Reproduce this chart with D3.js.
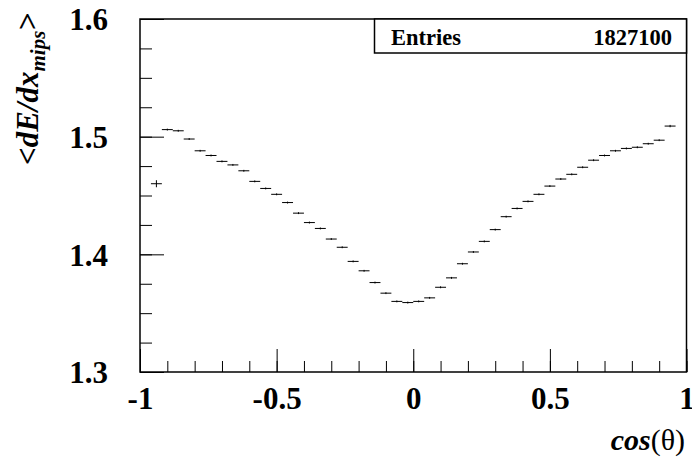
<!DOCTYPE html>
<html>
<head>
<meta charset="utf-8">
<script src="https://cdn.jsdelivr.net/npm/d3@7"></script>
<style>
  body { margin: 0; background: #fff; }
  svg { display: block; }
</style>
</head>
<body>
<div id="vis"></div>
<script>
// bin centres of cos(theta), 50 bins of width 0.04 (the two outer bins are empty)
var bin_centers = [-0.94, -0.90, -0.86, -0.82, -0.78, -0.74, -0.70, -0.66, -0.62, -0.58,
  -0.54, -0.50, -0.46, -0.42, -0.38, -0.34, -0.30, -0.26, -0.22, -0.18,
  -0.14, -0.10, -0.06, -0.02, 0.02, 0.06, 0.10, 0.14, 0.18, 0.22,
  0.26, 0.30, 0.34, 0.38, 0.42, 0.46, 0.50, 0.54, 0.58, 0.62,
  0.66, 0.70, 0.74, 0.78, 0.82, 0.86, 0.90, 0.94];
var mean_dedx = [1.460, 1.506, 1.505, 1.498, 1.488, 1.484, 1.479, 1.476, 1.471, 1.462,
  1.456, 1.451, 1.444, 1.435, 1.427, 1.422, 1.413, 1.406, 1.394, 1.386,
  1.376, 1.367, 1.360, 1.359, 1.360, 1.363, 1.372, 1.380, 1.392, 1.402,
  1.411, 1.421, 1.432, 1.439, 1.445, 1.451, 1.458, 1.464, 1.468, 1.474,
  1.480, 1.484, 1.488, 1.490, 1.491, 1.494, 1.497, 1.509];
var dedx_err = [0.0030, 0.0008, 0.0008, 0.0008, 0.0008, 0.0008, 0.0008, 0.0008, 0.0008, 0.0008,
  0.0008, 0.0008, 0.0008, 0.0008, 0.0008, 0.0008, 0.0008, 0.0008, 0.0008, 0.0008,
  0.0008, 0.0008, 0.0008, 0.0008, 0.0008, 0.0008, 0.0008, 0.0008, 0.0008, 0.0008,
  0.0008, 0.0008, 0.0008, 0.0008, 0.0008, 0.0008, 0.0008, 0.0008, 0.0008, 0.0008,
  0.0008, 0.0008, 0.0008, 0.0008, 0.0008, 0.0008, 0.0008, 0.0010];
var bin_half_width = 0.02;

var x_ticks = [-1, -0.5, 0, 0.5, 1];
var x_tick_labels = ["-1", "-0.5", "0", "0.5", "1"];
var y_ticks = [1.3, 1.4, 1.5, 1.6];
var y_tick_labels = ["1.3", "1.4", "1.5", "1.6"];
var entries = "1827100";

var serif = '"Liberation Serif", "Times New Roman", Times, serif';

var width = 692, height = 461;
var margin = { top: 19, bottom: 89, left: 140, right: 5.5 };

var svg = d3.select('#vis')
    .append('svg')
    .attr('width', width)
    .attr('height', height)
    .style('font-family', serif);

var x_scale = d3.scaleLinear()
    .domain([-1, 1])
    .range([margin.left, width - margin.right]);

var y_scale = d3.scaleLinear()
    .domain([1.3, 1.6])
    .range([height - margin.bottom, margin.top]);

var x0 = x_scale.range()[0], x1 = x_scale.range()[1];
var y0 = y_scale.range()[0], y1 = y_scale.range()[1];

// minor ticks
var x_minor = d3.range(-10, 11).map(function(i) { return i / 10; });
var y_minor = d3.range(0, 13).map(function(i) { return 1.3 + i * 0.025; });

svg.append('g')
    .attr('transform', 'translate(0,' + y0 + ')')
    .call(d3.axisBottom(x_scale).tickValues(x_minor).tickSizeInner(-11).tickSizeOuter(0).tickFormat(''))
    .call(function(g) { g.select('.domain').remove(); });

svg.append('g')
    .attr('transform', 'translate(' + x0 + ',0)')
    .call(d3.axisLeft(y_scale).tickValues(y_minor).tickSizeInner(-12).tickSizeOuter(0).tickFormat(''))
    .call(function(g) { g.select('.domain').remove(); });

// major ticks + labels
var gx = svg.append('g')
    .attr('transform', 'translate(0,' + y0 + ')')
    .call(d3.axisBottom(x_scale).tickValues(x_ticks).tickSizeInner(-23).tickSizeOuter(0)
        .tickFormat(function(d, i) { return x_tick_labels[i]; }));
gx.attr('font-family', null).attr('font-size', null);
gx.select('.domain').remove();
gx.selectAll('text')
    .attr('y', 37)
    .attr('dy', 0)
    .style('font-family', serif)
    .style('font-weight', 'bold')
    .style('font-size', '31px')
    .attr('fill', '#000');

var gy = svg.append('g')
    .attr('transform', 'translate(' + x0 + ',0)')
    .call(d3.axisLeft(y_scale).tickValues(y_ticks).tickSizeInner(-24).tickSizeOuter(0)
        .tickFormat(function(d, i) { return y_tick_labels[i]; }));
gy.attr('font-family', null).attr('font-size', null);
gy.select('.domain').remove();
gy.selectAll('text')
    .attr('x', -32)
    .attr('dy', '0.35em')
    .style('font-family', serif)
    .style('font-weight', 'bold')
    .style('font-size', '31px')
    .attr('fill', '#000');

svg.selectAll('.tick line').attr('stroke', '#000').attr('stroke-width', 1);

// frame
svg.append('rect')
    .attr('x', x0)
    .attr('y', y1)
    .attr('width', x1 - x0)
    .attr('height', y0 - y1)
    .attr('fill', 'none')
    .attr('stroke', '#000')
    .attr('stroke-width', 1.5);

// profile points: horizontal bin bar + vertical error
var pts = svg.append('g');
pts.selectAll('.hbar')
    .data(bin_centers)
    .enter()
    .append('line')
    .attr('class', 'hbar')
    .attr('x1', function(d) { return x_scale(d - bin_half_width); })
    .attr('x2', function(d) { return x_scale(d + bin_half_width); })
    .attr('y1', function(d, i) { return y_scale(mean_dedx[i]); })
    .attr('y2', function(d, i) { return y_scale(mean_dedx[i]); })
    .attr('stroke', '#000')
    .attr('stroke-width', 1);

pts.selectAll('.vbar')
    .data(bin_centers)
    .enter()
    .append('line')
    .attr('class', 'vbar')
    .attr('x1', function(d) { return x_scale(d); })
    .attr('x2', function(d) { return x_scale(d); })
    .attr('y1', function(d, i) { return y_scale(mean_dedx[i] - dedx_err[i]); })
    .attr('y2', function(d, i) { return y_scale(mean_dedx[i] + dedx_err[i]); })
    .attr('stroke', '#000')
    .attr('stroke-width', 1);

// stats box
var box = svg.append('g');
box.append('rect')
    .attr('x', 374.5)
    .attr('y', y1)
    .attr('width', x1 - 374.5)
    .attr('height', 34)
    .attr('fill', '#fff')
    .attr('stroke', '#000')
    .attr('stroke-width', 1.5);
box.append('text')
    .attr('x', 391)
    .attr('y', 45)
    .style('font-weight', 'bold')
    .style('font-size', '22.5px')
    .text('Entries');
box.append('text')
    .attr('x', 672)
    .attr('y', 45)
    .attr('text-anchor', 'end')
    .style('font-weight', 'bold')
    .style('font-size', '22.5px')
    .text(entries);

// axis titles
svg.append('text')
    .attr('text-anchor', 'end')
    .attr('x', 685)
    .attr('y', 450)
    .style('font-weight', 'bold')
    .style('font-size', '30px')
    .call(function(t) {
        t.append('tspan').style('font-style', 'italic').text('cos');
        t.append('tspan').style('font-weight', 'normal').text('(θ)');
    });

var yt = svg.append('text')
    .attr('text-anchor', 'end')
    .attr('transform', 'translate(38,13) rotate(-90)')
    .style('font-weight', 'bold')
    .style('font-size', '31px')
    .style('font-style', 'italic');
yt.append('tspan').text('<dE/dx');
yt.append('tspan').attr('dy', 7).style('font-size', '21px').text('mips');
yt.append('tspan').attr('dy', -7).text('>');
</script>
</body>
</html>
